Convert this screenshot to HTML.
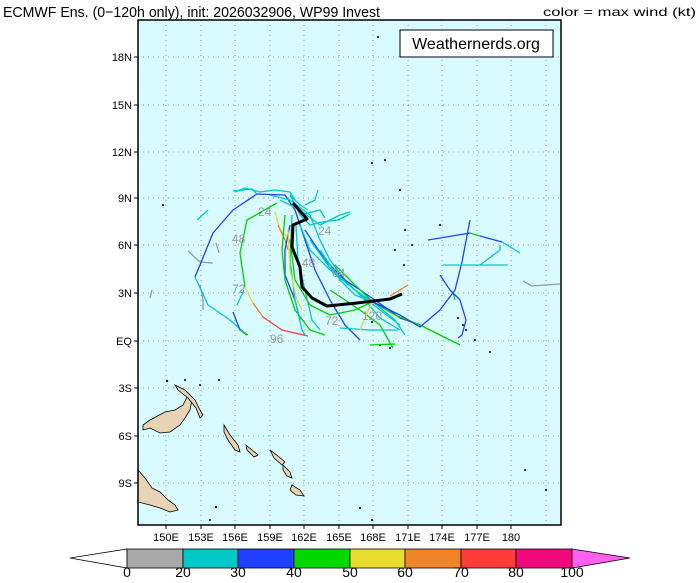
<!DOCTYPE html>
<html><head><meta charset="utf-8"><style>
body{margin:0;background:#fff;}
svg text{font-family:"Liberation Sans",sans-serif;}
</style></head><body>
<svg width="700" height="578" viewBox="0 0 700 578" xmlns="http://www.w3.org/2000/svg">
<text x="3" y="17" font-size="15" fill="#000" textLength="377" lengthAdjust="spacingAndGlyphs">ECMWF Ens. (0−120h only), init: 2026032906, WP99 Invest</text>
<text x="543" y="16" font-size="12" fill="#000" textLength="153" lengthAdjust="spacingAndGlyphs">color = max wind (kt)</text>
<rect x="138" y="20" width="423" height="505" fill="#d8fbff"/>
<g stroke="#999" stroke-width="1" stroke-dasharray="1,4">
<line x1="166" y1="20" x2="166" y2="525"/><line x1="201" y1="20" x2="201" y2="525"/><line x1="235" y1="20" x2="235" y2="525"/><line x1="270" y1="20" x2="270" y2="525"/><line x1="304" y1="20" x2="304" y2="525"/><line x1="339" y1="20" x2="339" y2="525"/><line x1="373" y1="20" x2="373" y2="525"/><line x1="408" y1="20" x2="408" y2="525"/><line x1="442" y1="20" x2="442" y2="525"/><line x1="477" y1="20" x2="477" y2="525"/><line x1="511" y1="20" x2="511" y2="525"/><line x1="546" y1="20" x2="546" y2="525"/>
<line x1="138" y1="57" x2="561" y2="57"/><line x1="138" y1="105" x2="561" y2="105"/><line x1="138" y1="152" x2="561" y2="152"/><line x1="138" y1="198" x2="561" y2="198"/><line x1="138" y1="245" x2="561" y2="245"/><line x1="138" y1="293" x2="561" y2="293"/><line x1="138" y1="341" x2="561" y2="341"/><line x1="138" y1="388" x2="561" y2="388"/><line x1="138" y1="436" x2="561" y2="436"/><line x1="138" y1="483" x2="561" y2="483"/>
</g>
<g fill="#e8d3b5" stroke="#000" stroke-width="0.8">
<path d="M138,470 L145,478 L152,488 L160,492 L168,500 L175,505 L178,510 L170,512 L160,508 L150,505 L138,502 Z"/>
<path d="M143,430 L150,428 L160,433 L170,432 L180,425 L185,418 L190,410 L192,400 L188,395 L183,405 L175,410 L165,412 L150,420 L143,425 Z"/>
<path d="M175,385 L185,390 L195,400 L200,410 L203,415 L200,418 L196,408 L188,398 L178,390 Z"/>
<path d="M224,425 L230,435 L238,445 L240,452 L235,450 L228,440 L224,432 Z"/>
<path d="M246,445 L252,450 L258,455 L254,457 L247,450 Z"/>
<path d="M270,450 L278,456 L285,462 L282,465 L274,458 Z"/>
<path d="M292,485 L300,490 L304,496 L296,495 L290,490 Z"/>
<path d="M283,465 L290,472 L292,478 L287,476 L283,470 Z"/>
</g>
<g fill="#000">
<circle cx="167" cy="381" r="1.2"/><circle cx="185" cy="380" r="1"/><circle cx="219" cy="380" r="1"/><circle cx="200" cy="385" r="1"/><circle cx="216" cy="507" r="1.2"/><circle cx="210" cy="520" r="1"/><circle cx="372" cy="322" r="1"/><circle cx="380" cy="345" r="1"/><circle cx="390" cy="348" r="1"/><circle cx="458" cy="318" r="1"/><circle cx="463" cy="325" r="1"/><circle cx="466" cy="330" r="1"/><circle cx="475" cy="340" r="1"/><circle cx="490" cy="352" r="1"/><circle cx="395" cy="250" r="1"/><circle cx="405" cy="230" r="1"/><circle cx="412" cy="245" r="1"/><circle cx="404" cy="265" r="1"/><circle cx="372" cy="163" r="1"/><circle cx="385" cy="160" r="1"/><circle cx="400" cy="190" r="1"/><circle cx="440" cy="225" r="1"/><circle cx="163" cy="205" r="1"/><circle cx="378" cy="37" r="1"/><circle cx="360" cy="508" r="1"/><circle cx="372" cy="520" r="1"/><circle cx="546" cy="490" r="1"/><circle cx="525" cy="470" r="1"/>
</g>
<g fill="none" stroke-width="1.3" stroke-linejoin="round">
<polyline stroke="#999" points="188,251 200,262 213,263"/>
<polyline stroke="#999" points="216,243 219,253"/>
<polyline stroke="#999" points="200,285 203,300 203,310"/>
<polyline stroke="#999" points="152,290 150,298"/>
<polyline stroke="#999" points="523,281 532,286 560,284"/>
<polyline stroke="#00c8c8" points="197,220 208,210"/>
<polyline stroke="#2040ff" points="257,194 233,210 213,233 200,265 195,277"/>
<polyline stroke="#00c8c8" points="195,277 208,305 230,320 247,335"/>
<polyline stroke="#00c0c0" points="233,191 252,189 257,194"/>
<polyline stroke="#00d000" points="277,203 247,220 240,253 245,287"/>
<polyline stroke="#e8d830" points="245,287 253,303"/>
<polyline stroke="#f08020" points="253,303 263,317"/>
<polyline stroke="#ff3838" points="263,317 282,330 308,336"/>
<polyline stroke="#2040ff" points="233,312 240,330 247,335"/>
<polyline stroke="#00d000" points="240,330 248,335"/>
<polyline stroke="#00c8c8" points="237,305 244,290"/>
<polyline stroke="#2040ff" points="257,194 285,195 295,210 305,240 315,270 330,300 345,325 360,340"/>
<polyline stroke="#00c8c8" points="270,195 290,200 310,215 320,240 330,260 345,280 365,300 380,318 400,330"/>
<polyline stroke="#00c8c8" points="280,200 300,210 320,225 340,215 350,212"/>
<polyline stroke="#00c8c8" points="290,195 300,215 310,225 322,222 338,220 350,214"/>
<polyline stroke="#e8d830" points="275,212 280,230 290,240 295,250"/>
<polyline stroke="#f08020" points="278,225 285,240 288,250"/>
<polyline stroke="#2040ff" points="290,225 285,250 285,275 295,300 300,320"/>
<polyline stroke="#00d000" points="285,215 282,250 285,280 295,310 310,330 325,335"/>
<polyline stroke="#00c8c8" points="292,215 290,260 295,300 302,330 305,335"/>
<polyline stroke="#e8d830" points="288,230 290,270 297,300 302,310"/>
<polyline stroke="#00c8c8" points="296,225 298,260 305,290 312,320 320,330"/>
<polyline stroke="#00d000" points="290,240 295,280 310,305 330,315 355,310 372,302"/>
<polyline stroke="#00c8c8" points="300,225 310,250 330,270 355,290 373,302"/>
<polyline stroke="#2040ff" points="305,230 325,260 345,280 375,300 400,318 420,325"/>
<polyline stroke="#00c8c8" points="310,240 330,268 355,290 380,310 400,325"/>
<polyline stroke="#00c8c8" points="320,250 340,280 355,295 373,302 395,320 405,335"/>
<polyline stroke="#00d000" points="335,265 355,285 373,302 395,315 420,325 460,345"/>
<polyline stroke="#00d000" points="330,290 360,310 380,325 393,348"/>
<polyline stroke="#00d000" points="370,345 395,344"/>
<polyline stroke="#00c8c8" points="340,328 370,330 398,330"/>
<polyline stroke="#e8d830" points="360,330 372,302 390,298 400,294"/>
<polyline stroke="#f08020" points="390,296 408,285"/>
<polyline stroke="#2040ff" points="373,302 400,315 420,327 440,310 455,290 462,262 470,220"/>
<polyline stroke="#00d000" points="453,292 455,300"/>
<polyline stroke="#2040ff" points="440,275 450,290 460,300 466,320 462,335 458,338"/>
<polyline stroke="#2040ff" points="428,240 470,233"/>
<polyline stroke="#00d000" points="470,233 480,236"/>
<polyline stroke="#2040ff" points="480,236 502,242"/>
<polyline stroke="#00c8c8" points="502,242 520,253"/>
<polyline stroke="#00c8c8" points="443,265 470,265 508,265"/>
<polyline stroke="#00c8c8" points="480,265 500,250 500,245"/>
<polyline stroke="#00c8c8" points="235,192 245,188 260,192 275,190 290,192 295,200"/>
<polyline stroke="#00c8c8" points="290,195 300,205 308,210"/>
<polyline stroke="#00c8c8" points="305,205 315,200 318,190"/>
<polyline stroke="#00c8c8" points="300,215 320,210 325,218"/>
</g>
<polyline fill="none" stroke="#000" stroke-width="3" stroke-linejoin="round" points="293,203 307,219 293,225 292,247 300,267 302,287 312,298 327,306 357,303 390,299 402,294"/>
<g fill="#999" font-size="12">
<text x="258" y="216">24</text><text x="232" y="243">48</text><text x="232" y="293">72</text><text x="270" y="343">96</text>
<text x="318" y="235">24</text><text x="302" y="267">48</text><text x="332" y="277">04</text><text x="325" y="325">72</text><text x="362" y="320">120</text>
</g>
<rect x="138" y="20" width="423" height="505" fill="none" stroke="#000" stroke-width="1.5"/>
<rect x="400" y="30" width="153" height="27" fill="#fff" stroke="#000" stroke-width="1"/>
<text x="476" y="49" font-size="16" text-anchor="middle" font-family="Liberation Mono,monospace" fill="#000">Weathernerds.org</text>
<g font-size="11" fill="#000" text-anchor="end">
<text x="132" y="61">18N</text><text x="132" y="109">15N</text><text x="132" y="156">12N</text><text x="132" y="202">9N</text><text x="132" y="249">6N</text><text x="132" y="297">3N</text><text x="132" y="345">EQ</text><text x="132" y="392">3S</text><text x="132" y="440">6S</text><text x="132" y="487">9S</text>
</g>
<g stroke="#000"><line x1="134" y1="57" x2="138" y2="57"/><line x1="134" y1="105" x2="138" y2="105"/><line x1="134" y1="152" x2="138" y2="152"/><line x1="134" y1="198" x2="138" y2="198"/><line x1="134" y1="245" x2="138" y2="245"/><line x1="134" y1="293" x2="138" y2="293"/><line x1="134" y1="341" x2="138" y2="341"/><line x1="134" y1="388" x2="138" y2="388"/><line x1="134" y1="436" x2="138" y2="436"/><line x1="134" y1="483" x2="138" y2="483"/>
<line x1="166" y1="525" x2="166" y2="529"/><line x1="201" y1="525" x2="201" y2="529"/><line x1="235" y1="525" x2="235" y2="529"/><line x1="270" y1="525" x2="270" y2="529"/><line x1="304" y1="525" x2="304" y2="529"/><line x1="339" y1="525" x2="339" y2="529"/><line x1="373" y1="525" x2="373" y2="529"/><line x1="408" y1="525" x2="408" y2="529"/><line x1="442" y1="525" x2="442" y2="529"/><line x1="477" y1="525" x2="477" y2="529"/><line x1="511" y1="525" x2="511" y2="529"/></g>
<g font-size="11" fill="#000" text-anchor="middle">
<text x="166" y="541">150E</text><text x="201" y="541">153E</text><text x="235" y="541">156E</text><text x="270" y="541">159E</text><text x="304" y="541">162E</text><text x="339" y="541">165E</text><text x="373" y="541">168E</text><text x="408" y="541">171E</text><text x="442" y="541">174E</text><text x="477" y="541">177E</text><text x="511" y="541">180</text>
</g>
<g stroke="#000" stroke-width="0.8">
<polygon points="70,558 127,549 127,568" fill="#fff"/>
<rect x="127" y="549" width="56" height="19" fill="#a8a8a8"/>
<rect x="183" y="549" width="55" height="19" fill="#00c8c8"/>
<rect x="238" y="549" width="56" height="19" fill="#2040ff"/>
<rect x="294" y="549" width="56" height="19" fill="#00d800"/>
<rect x="350" y="549" width="55" height="19" fill="#e8dc30"/>
<rect x="405" y="549" width="56" height="19" fill="#f08428"/>
<rect x="461" y="549" width="55" height="19" fill="#ff3c3c"/>
<rect x="516" y="549" width="56" height="19" fill="#f0087c"/>
<polygon points="572,549 630,558 572,568" fill="#ff60f0"/>
</g>
<g font-size="14" fill="#000" text-anchor="middle">
<text x="127" y="577">0</text><text x="183" y="577">20</text><text x="238" y="577">30</text><text x="294" y="577">40</text><text x="350" y="577">50</text><text x="405" y="577">60</text><text x="461" y="577">70</text><text x="516" y="577">80</text><text x="572" y="577">100</text>
</g>
</svg>
</body></html>
